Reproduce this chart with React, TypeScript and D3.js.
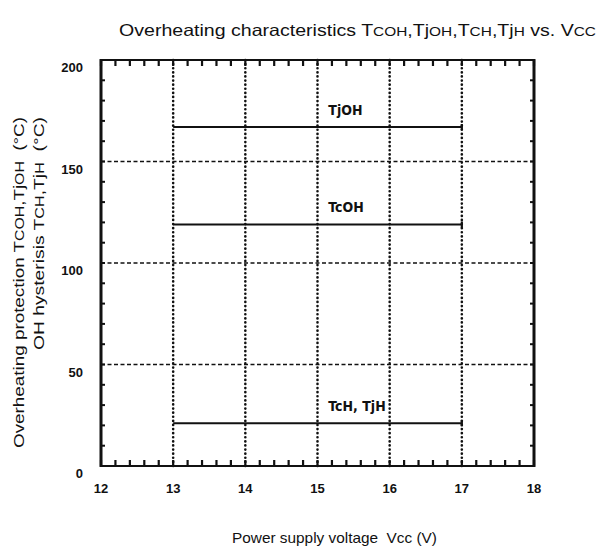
import React, { useEffect, useRef } from 'react';
import * as d3 from 'd3';

const xTicks = [12, 13, 14, 15, 16, 17, 18];
const yTicks = [0, 50, 100, 150, 200];
const vGrid = [13, 14, 15, 16, 17];
const hGrid = [50, 100, 150];

const seriesNames = ['TjOH', 'TcOH', 'TcH, TjH'];
const seriesValues = [167, 119, 21];
const seriesRange = [13, 17];

export default function App() {
  const gRef = useRef<SVGGElement>(null);

  useEffect(() => {
    if (!gRef.current) return;
    const g = d3.select(gRef.current);
    g.selectAll('*').remove();

    const x = d3.scaleLinear().domain([12, 18]).range([101, 534]);
    const y = d3.scaleLinear().domain([0, 200]).range([466, 60]);

    // grid
    g.selectAll('.vg')
      .data(vGrid)
      .enter()
      .append('line')
      .attr('x1', d => x(d)).attr('x2', d => x(d))
      .attr('y1', y(200)).attr('y2', y(0))
      .attr('stroke', '#111')
      .attr('stroke-width', 2.6)
      .attr('stroke-linecap', 'round')
      .attr('stroke-dasharray', '0.1 4');

    g.selectAll('.hg')
      .data(hGrid)
      .enter()
      .append('line')
      .attr('x1', x(12)).attr('x2', x(18))
      .attr('y1', d => y(d)).attr('y2', d => y(d))
      .attr('stroke', '#111')
      .attr('stroke-width', 1.5)
      .attr('stroke-dasharray', '4 2.5');

    // minor ticks
    const xMinor = d3.range(12, 18.001, 0.2);
    g.selectAll('.tt')
      .data(xMinor)
      .enter()
      .append('line')
      .attr('x1', d => x(d)).attr('x2', d => x(d))
      .attr('y1', y(200)).attr('y2', y(200) + 6)
      .attr('stroke', '#111').attr('stroke-width', 2.2);
    g.selectAll('.bt')
      .data(xMinor)
      .enter()
      .append('line')
      .attr('x1', d => x(d)).attr('x2', d => x(d))
      .attr('y1', y(0)).attr('y2', y(0) - 6)
      .attr('stroke', '#111').attr('stroke-width', 2.2);
    const yMinor = d3.range(0, 200.001, 10);
    g.selectAll('.lt')
      .data(yMinor)
      .enter()
      .append('line')
      .attr('x1', x(12)).attr('x2', x(12) + 4)
      .attr('y1', d => y(d)).attr('y2', d => y(d))
      .attr('stroke', '#111').attr('stroke-width', 2);
    g.selectAll('.rt')
      .data(yMinor)
      .enter()
      .append('line')
      .attr('x1', x(18)).attr('x2', x(18) - 4)
      .attr('y1', d => y(d)).attr('y2', d => y(d))
      .attr('stroke', '#111').attr('stroke-width', 2);

    // frame
    g.append('line').attr('x1', x(12)).attr('x2', x(18)).attr('y1', y(200)).attr('y2', y(200))
      .attr('stroke', '#111').attr('stroke-width', 2);
    g.append('line').attr('x1', x(12)).attr('x2', x(18)).attr('y1', y(0)).attr('y2', y(0))
      .attr('stroke', '#111').attr('stroke-width', 2);
    g.append('line').attr('x1', x(12)).attr('x2', x(12)).attr('y1', y(200) - 1).attr('y2', y(0) + 1)
      .attr('stroke', '#111').attr('stroke-width', 3);
    g.append('line').attr('x1', x(18)).attr('x2', x(18)).attr('y1', y(200) - 1).attr('y2', y(0) + 1)
      .attr('stroke', '#111').attr('stroke-width', 3);

    // series lines
    seriesValues.forEach((v, i) => {
      g.append('line')
        .attr('x1', x(seriesRange[0])).attr('x2', x(seriesRange[1]))
        .attr('y1', y(v)).attr('y2', y(v))
        .attr('stroke', '#111').attr('stroke-width', 2);
      g.append('line')
        .attr('x1', x(seriesRange[1])).attr('x2', x(seriesRange[1]))
        .attr('y1', y(v) - 3).attr('y2', y(v) + 3)
        .attr('stroke', '#111').attr('stroke-width', 2.2);
      g.append('text')
        .attr('x', x(15.15))
        .attr('y', y(v) - 12)
        .attr('font-family', 'Liberation Sans Narrow, DejaVu Sans Condensed, sans-serif')
        .attr('font-weight', 'bold')
        .attr('font-size', 14)
        .attr('fill', '#111')
        .text(seriesNames[i]);
    });

    // tick labels
    g.selectAll('.xl')
      .data(xTicks)
      .enter()
      .append('text')
      .attr('x', d => x(d))
      .attr('y', 493)
      .attr('text-anchor', 'middle')
      .attr('font-family', 'Liberation Sans, Arial, sans-serif')
      .attr('font-weight', 'bold')
      .attr('font-size', 13)
      .attr('fill', '#111')
      .text(d => d);
    g.selectAll('.yl')
      .data(yTicks)
      .enter()
      .append('text')
      .attr('x', 83)
      .attr('y', d => y(d) + 12)
      .attr('text-anchor', 'end')
      .attr('font-family', 'Liberation Sans, Arial, sans-serif')
      .attr('font-weight', 'bold')
      .attr('font-size', 13)
      .attr('fill', '#111')
      .text(d => d);
  }, []);

  const font = 'Liberation Sans, Arial, sans-serif';
  const sm = 13;

  return (
    <svg width={612} height={547} style={{ display: 'block', position: 'absolute', left: 0, top: 0, background: '#fff' }}>
      <g ref={gRef} />
      <text x={119} y={36} fontFamily={font} fontSize={16.5} fill="#111" textLength={477} lengthAdjust="spacingAndGlyphs">
        Overheating characteristics T<tspan fontSize={sm}>COH</tspan>,Tj<tspan fontSize={sm}>OH</tspan>,T<tspan fontSize={sm}>CH</tspan>,Tj<tspan fontSize={sm}>H</tspan> vs. V<tspan fontSize={sm}>CC</tspan>
      </text>
      <text x={232} y={543} fontFamily={font} fontSize={15} fill="#111" xmlSpace="preserve" textLength={205} lengthAdjust="spacingAndGlyphs">
        Power supply voltage  Vcc (V)
      </text>
      <g transform="translate(24,448) rotate(-90)">
        <text x={0} y={0} fontFamily={font} fontSize={15.5} fill="#111" xmlSpace="preserve" textLength={331} lengthAdjust="spacingAndGlyphs">
          Overheating protection T<tspan fontSize={sm}>COH</tspan>,Tj<tspan fontSize={sm}>OH</tspan>  (°C)
        </text>
        <text x={98} y={20} fontFamily={font} fontSize={15.5} fill="#111" xmlSpace="preserve" textLength={233} lengthAdjust="spacingAndGlyphs">
          OH hysterisis T<tspan fontSize={sm}>CH</tspan>,Tj<tspan fontSize={sm}>H</tspan>  (°C)
        </text>
      </g>
    </svg>
  );
}
